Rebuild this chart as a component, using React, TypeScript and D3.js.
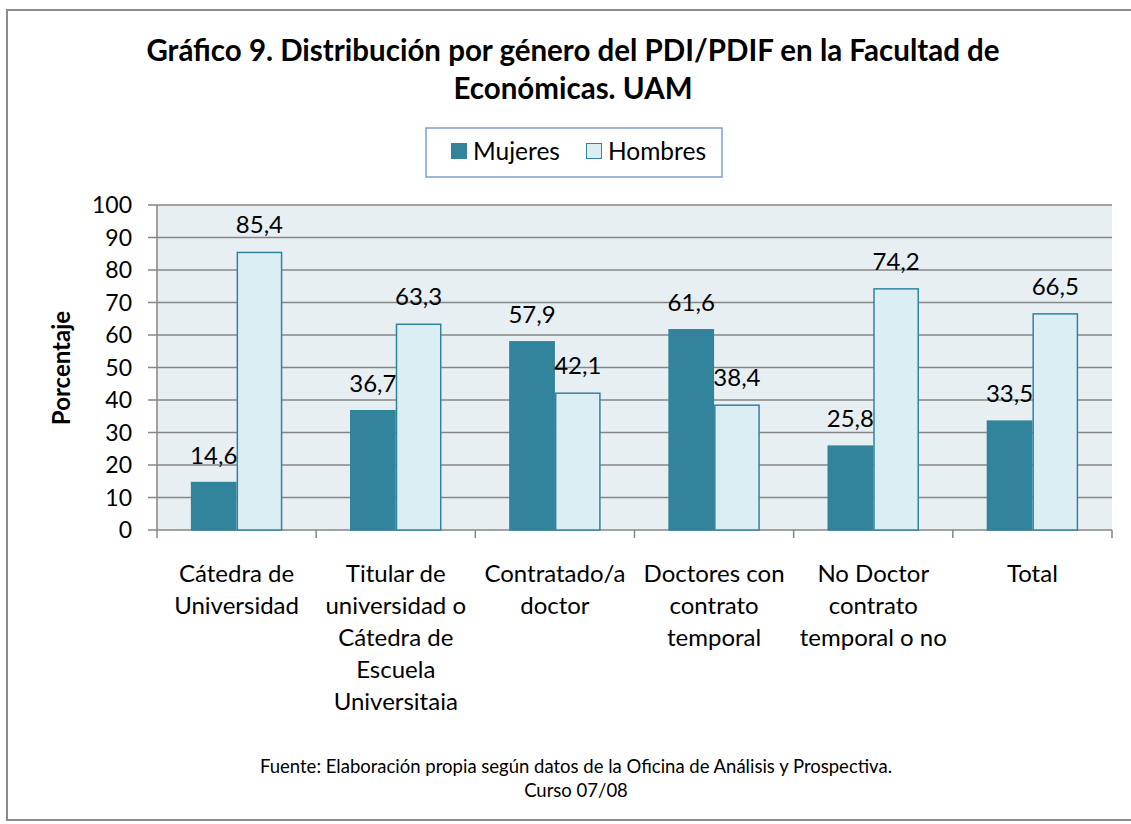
import * as d3 from "d3";
import React from "react";

const categories = [
  ["Cátedra de", "Universidad"],
  ["Titular de", "universidad o", "Cátedra de", "Escuela", "Universitaia"],
  ["Contratado/a", "doctor"],
  ["Doctores con", "contrato", "temporal"],
  ["No Doctor", "contrato", "temporal o no"],
  ["Total"],
];
const mujeres = [14.6, 36.7, 57.9, 61.6, 25.8, 33.5];
const hombres = [85.4, 63.3, 42.1, 38.4, 74.2, 66.5];
const yTicks = [0, 10, 20, 30, 40, 50, 60, 70, 80, 90, 100];

const W = 1131;
const H = 824;
const FONT = "Lato, 'Open Sans', sans-serif";
const DARK = "#31849b";
const LIGHT = "#daeef3";

const App = () => {
  const margin = { left: 157, right: 1112, top: 205, bottom: 530 };
  const idx = categories.map((_, i) => i);

  const x = d3.scaleBand<number>().domain(idx).range([margin.left, margin.right]);
  const inner = d3
    .scaleBand<string>()
    .domain(["m", "h"])
    .range([0, x.bandwidth()])
    .paddingInner(0)
    .paddingOuter(0.74);
  const y = d3.scaleLinear().domain([0, 100]).range([margin.bottom, margin.top]);

  const fmt = (v: number) => v.toFixed(1).replace(".", ",");

  const series = [
    { key: "m", values: mujeres, fill: DARK, stroke: DARK },
    { key: "h", values: hombres, fill: LIGHT, stroke: DARK },
  ];

  return (
    <svg
      width={W}
      height={H}
      style={{ position: "absolute", left: 0, top: 0 }}
      fontFamily={FONT}
    >
      <rect x={0} y={0} width={W} height={H} fill="#fff" />
      {/* outer frame */}
      <rect x={7} y={10} width={W + 10} height={810} fill="none" stroke="#8c8c8c" strokeWidth={2} />

      {/* title */}
      <text x={573} y={61} textAnchor="middle" fontSize={29.5} fontWeight="bold" fill="#000">
        Gráfico 9. Distribución por género del PDI/PDIF en la Facultad de
      </text>
      <text x={573} y={99} textAnchor="middle" fontSize={29.5} fontWeight="bold" fill="#000">
        Económicas. UAM
      </text>

      {/* legend */}
      <rect x={426} y={128} width={296} height={49} fill="#fff" stroke="#7f9fcf" strokeWidth={1.5} />
      <rect x={451} y={143} width={16} height={16} fill={DARK} />
      <text x={473} y={160} fontSize={24.5} fill="#000">Mujeres</text>
      <rect x={586.5} y={143.5} width={15} height={15} fill={LIGHT} stroke={DARK} />
      <text x={608} y={160} fontSize={24.5} fill="#000">Hombres</text>

      {/* plot background */}
      <rect
        x={margin.left}
        y={margin.top}
        width={margin.right - margin.left}
        height={margin.bottom - margin.top}
        fill="#e8eff3"
      />

      {/* gridlines + y ticks */}
      {yTicks.map((t) => (
        <g key={t}>
          <line
            x1={148}
            x2={margin.right}
            y1={y(t)}
            y2={y(t)}
            stroke="#868686"
            strokeWidth={1.5}
          />
          <text x={132} y={y(t) + 8} textAnchor="end" fontSize={23} fill="#000">
            {t}
          </text>
        </g>
      ))}

      {/* y axis */}
      <line x1={margin.left} x2={margin.left} y1={margin.top} y2={margin.bottom} stroke="#868686" strokeWidth={1.5} />
      {/* x axis ticks */}
      {[...idx, categories.length].map((i) => {
        const xx = i < categories.length ? x(i)! : margin.right;
        return (
          <line key={i} x1={xx} x2={xx} y1={margin.bottom} y2={margin.bottom + 8} stroke="#868686" strokeWidth={1.5} />
        );
      })}

      {/* bars */}
      {series.map((s) =>
        s.values.map((v, i) => {
          const bx = x(i)! + inner(s.key)!;
          return (
            <rect
              key={s.key + i}
              x={bx + 0.75}
              y={y(v)}
              width={inner.bandwidth() - 1.5}
              height={y(0) - y(v)}
              fill={s.fill}
              stroke={s.stroke}
              strokeWidth={1.5}
            />
          );
        })
      )}

      {/* data labels */}
      {series.map((s) =>
        s.values.map((v, i) => (
          <text
            key={"l" + s.key + i}
            x={x(i)! + inner(s.key)! + inner.bandwidth() / 2}
            y={y(v) - 19}
            textAnchor="middle"
            fontSize={24}
            fill="#000"
          >
            {fmt(v)}
          </text>
        ))
      )}

      {/* category labels */}
      {categories.map((lines, i) => (
        <text
          key={"c" + i}
          x={x(i)! + x.bandwidth() / 2}
          textAnchor="middle"
          fontSize={24}
          fill="#000"
        >
          {lines.map((l, j) => (
            <tspan key={j} x={x(i)! + x.bandwidth() / 2} y={582 + j * 32}>
              {l}
            </tspan>
          ))}
        </text>
      ))}

      {/* y axis title */}
      <text
        transform={`translate(70,368) rotate(-90)`}
        textAnchor="middle"
        fontSize={24}
        fontWeight="bold"
        fill="#000"
      >
        Porcentaje
      </text>

      {/* footer */}
      <text x={576} y={773} textAnchor="middle" fontSize={18.5} fill="#000">
        Fuente: Elaboración propia según datos de la Oficina de Análisis y Prospectiva.
      </text>
      <text x={576} y={797} textAnchor="middle" fontSize={18.5} fill="#000">
        Curso 07/08
      </text>
    </svg>
  );
};

export default App;
